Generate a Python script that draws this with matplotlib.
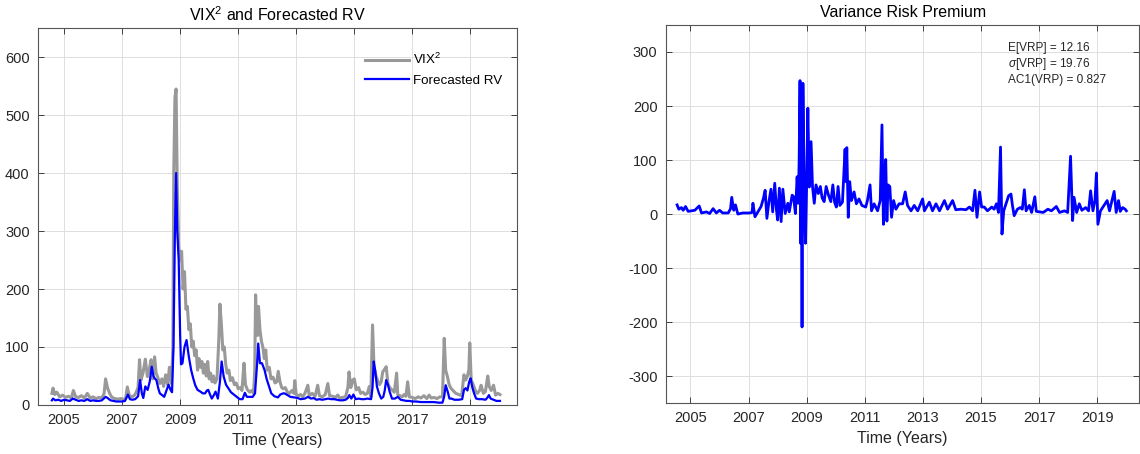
import matplotlib
matplotlib.use('Agg')
import matplotlib.pyplot as plt

# VIX^2 (grey line)
vix_t = [2004.58, 2004.62, 2004.68, 2004.75, 2004.85, 2004.95, 2005.05, 2005.15, 2005.25, 2005.32,
         2005.4, 2005.5, 2005.6, 2005.7, 2005.8, 2005.9, 2006.0, 2006.1, 2006.2, 2006.3,
         2006.38, 2006.43, 2006.5, 2006.57, 2006.65, 2006.75, 2006.85, 2006.95, 2007.05, 2007.12,
         2007.18, 2007.25, 2007.35, 2007.45, 2007.55, 2007.6, 2007.65, 2007.72, 2007.8, 2007.87,
         2007.93, 2008.0, 2008.05, 2008.12, 2008.17, 2008.22, 2008.3, 2008.37, 2008.43, 2008.5,
         2008.57, 2008.63, 2008.7, 2008.75, 2008.78, 2008.82, 2008.86, 2008.9, 2008.95, 2009.0,
         2009.05, 2009.1, 2009.15, 2009.2, 2009.25, 2009.3, 2009.35, 2009.4, 2009.45, 2009.5,
         2009.55, 2009.6, 2009.65, 2009.7, 2009.75, 2009.8, 2009.85, 2009.9, 2009.95, 2010.0,
         2010.05, 2010.1, 2010.15, 2010.2, 2010.27, 2010.33, 2010.37, 2010.42, 2010.47, 2010.52,
         2010.57, 2010.62, 2010.68, 2010.73, 2010.8, 2010.87, 2010.93, 2011.0, 2011.07, 2011.13,
         2011.2, 2011.25, 2011.32, 2011.4, 2011.47, 2011.53, 2011.57, 2011.6, 2011.63, 2011.67,
         2011.7, 2011.75, 2011.8, 2011.85, 2011.9, 2011.95, 2012.0, 2012.07, 2012.13, 2012.2,
         2012.27, 2012.33, 2012.38, 2012.44, 2012.5, 2012.55, 2012.62, 2012.7, 2012.77, 2012.85,
         2012.92, 2012.95, 2013.0, 2013.07, 2013.15, 2013.22, 2013.3, 2013.4, 2013.45, 2013.55,
         2013.65, 2013.74, 2013.8, 2013.9, 2014.0, 2014.09, 2014.15, 2014.25, 2014.35, 2014.43,
         2014.5, 2014.6, 2014.7, 2014.78, 2014.82, 2014.88, 2014.95, 2015.0, 2015.07, 2015.15,
         2015.22, 2015.3, 2015.38, 2015.45, 2015.52, 2015.57, 2015.63, 2015.68, 2015.75, 2015.8,
         2015.87, 2015.93, 2015.98, 2016.05, 2016.1, 2016.16, 2016.22, 2016.3, 2016.38, 2016.46,
         2016.5, 2016.58, 2016.65, 2016.72, 2016.78, 2016.84, 2016.9, 2017.0, 2017.1, 2017.2,
         2017.3, 2017.4, 2017.5, 2017.58, 2017.65, 2017.75, 2017.85, 2017.95, 2018.04, 2018.1,
         2018.15, 2018.21, 2018.27, 2018.33, 2018.4, 2018.5, 2018.6, 2018.7, 2018.78, 2018.84,
         2018.9, 2018.95, 2018.98, 2019.03, 2019.1, 2019.17, 2019.24, 2019.32, 2019.37, 2019.45,
         2019.52, 2019.6, 2019.65, 2019.72, 2019.8, 2019.87, 2019.95, 2020.02]
vix_v = [20, 29, 18, 22, 14, 17, 13, 15, 12, 25,
         14, 13, 16, 12, 20, 12, 14, 11, 13, 12,
         20, 45, 29, 20, 13, 11, 10, 11, 10, 11,
         31, 16, 14, 18, 30, 78, 43, 55, 79, 49,
         60, 78, 45, 83, 55, 49, 37, 45, 32, 52,
         35, 65, 37, 100, 400, 530, 545, 380, 270, 250,
         265, 200, 230, 165, 170, 130, 140, 100, 110, 85,
         95, 60, 80, 65, 75, 55, 70, 50, 75, 45,
         55, 40, 50, 38, 45, 110, 174, 140, 95, 100,
         70, 55, 60, 42, 47, 35, 38, 28, 30, 25,
         72, 35, 26, 22, 25, 20, 60, 190, 140, 120,
         170, 130, 110, 100, 80, 95, 60, 65, 45, 48,
         38, 40, 58, 40, 30, 28, 30, 22, 20, 25,
         20, 42, 18, 16, 18, 14, 20, 34, 16, 20,
         15, 34, 16, 14, 18, 37, 16, 15, 13, 17,
         12, 13, 14, 30, 57, 30, 43, 45, 26, 30,
         20, 22, 18, 20, 32, 14, 138, 66, 50, 43,
         35, 40, 57, 62, 66, 37, 30, 26, 22, 55,
         17, 16, 14, 18, 15, 40, 14, 13, 11, 14,
         12, 16, 11, 17, 12, 13, 11, 14, 14, 115,
         60, 49, 35, 29, 25, 20, 18, 16, 52, 43,
         50, 60, 107, 43, 35, 25, 20, 25, 34, 20,
         23, 50, 32, 25, 34, 17, 20, 18]

# Forecasted RV (blue line), left panel
rv_t = [2004.58, 2004.62, 2004.7, 2004.8, 2004.9, 2005.0, 2005.1, 2005.2, 2005.3, 2005.4,
        2005.5, 2005.6, 2005.7, 2005.8, 2005.9, 2006.0, 2006.1, 2006.2, 2006.3, 2006.43,
        2006.5, 2006.6, 2006.7, 2006.8, 2006.9, 2007.0, 2007.1, 2007.2, 2007.27, 2007.35,
        2007.45, 2007.55, 2007.62, 2007.68, 2007.73, 2007.8, 2007.88, 2007.95, 2008.02, 2008.08,
        2008.12, 2008.18, 2008.25, 2008.3, 2008.38, 2008.45, 2008.52, 2008.6, 2008.67, 2008.72,
        2008.77, 2008.82, 2008.86, 2008.9, 2008.95, 2009.0, 2009.03, 2009.08, 2009.15, 2009.22,
        2009.3, 2009.38, 2009.45, 2009.52, 2009.6, 2009.7, 2009.78, 2009.86, 2009.92, 2009.97,
        2010.03, 2010.09, 2010.15, 2010.22, 2010.3, 2010.37, 2010.43, 2010.5, 2010.58, 2010.66,
        2010.75, 2010.85, 2010.95, 2011.05, 2011.15, 2011.23, 2011.3, 2011.4, 2011.5, 2011.58,
        2011.65, 2011.69, 2011.75, 2011.82, 2011.91, 2011.98, 2012.05, 2012.14, 2012.25, 2012.37,
        2012.45, 2012.55, 2012.6, 2012.7, 2012.8, 2012.94, 2013.05, 2013.15, 2013.3, 2013.4,
        2013.51, 2013.6, 2013.7, 2013.8, 2013.9, 2014.0, 2014.1, 2014.2, 2014.31, 2014.4,
        2014.5, 2014.6, 2014.7, 2014.78, 2014.83, 2014.9, 2014.97, 2015.05, 2015.15, 2015.25,
        2015.35, 2015.45, 2015.58, 2015.63, 2015.67, 2015.72, 2015.78, 2015.85, 2015.93, 2016.0,
        2016.05, 2016.1, 2016.16, 2016.22, 2016.3, 2016.4, 2016.5, 2016.6, 2016.7, 2016.8,
        2016.9, 2017.0, 2017.13, 2017.3, 2017.45, 2017.6, 2017.75, 2017.9, 2018.04, 2018.1,
        2018.15, 2018.22, 2018.28, 2018.35, 2018.45, 2018.6, 2018.72, 2018.78, 2018.84, 2018.9,
        2018.96, 2019.01, 2019.07, 2019.13, 2019.2, 2019.3, 2019.41, 2019.52, 2019.58, 2019.64,
        2019.7, 2019.8, 2019.9, 2020.02]
rv_v = [8, 11, 8, 9, 7, 9, 8, 7, 11, 9,
        7, 8, 7, 10, 7, 8, 7, 7, 8, 14,
        12, 8, 7, 6, 6, 6, 7, 18, 10, 9,
        10, 15, 43, 20, 12, 32, 26, 40, 66, 50,
        46, 43, 28, 20, 17, 14, 24, 35, 26, 22,
        100, 300, 400, 300, 250, 120, 70, 72, 100, 112,
        83, 60, 46, 34, 26, 23, 20, 20, 25, 26,
        18, 11, 16, 23, 11, 40, 75, 49, 35, 29,
        22, 18, 14, 10, 10, 21, 14, 14, 14, 20,
        70, 106, 72, 72, 60, 45, 34, 20, 15, 13,
        18, 20, 20, 17, 14, 13, 12, 10, 11, 14,
        11, 12, 9, 10, 9, 10, 11, 10, 10, 9,
        8, 8, 9, 12, 17, 11, 18, 10, 11, 10,
        10, 11, 10, 30, 75, 60, 32, 20, 11, 14,
        25, 43, 35, 23, 11, 11, 14, 9, 8, 7,
        7, 6, 6, 5, 5, 5, 5, 4, 4, 15,
        34, 23, 11, 11, 9, 9, 10, 26, 29, 25,
        40, 46, 30, 20, 11, 10, 10, 9, 12, 17,
        11, 9, 7, 7]

# Variance risk premium, right panel
vrp_t = [2004.54, 2004.6, 2004.69, 2004.75, 2004.83, 2004.92, 2005.03, 2005.15, 2005.3, 2005.38,
         2005.55, 2005.66, 2005.78, 2005.89, 2006.0, 2006.11, 2006.3, 2006.38, 2006.42, 2006.49,
         2006.55, 2006.63, 2006.8, 2007.03, 2007.12, 2007.15, 2007.22, 2007.32, 2007.43, 2007.51,
         2007.57, 2007.63, 2007.7, 2007.77, 2007.83, 2007.9, 2007.96, 2008.0, 2008.06, 2008.12,
         2008.18, 2008.26, 2008.35, 2008.4, 2008.5, 2008.55, 2008.61, 2008.67, 2008.71, 2008.74,
         2008.77, 2008.79, 2008.81, 2008.84, 2008.87, 2008.92, 2008.96, 2009.0, 2009.04, 2009.09,
         2009.15, 2009.2, 2009.26, 2009.32, 2009.4, 2009.47, 2009.53, 2009.6, 2009.67, 2009.75,
         2009.83, 2009.9, 2009.96, 2010.02, 2010.08, 2010.14, 2010.23, 2010.32, 2010.35, 2010.38,
         2010.43, 2010.48, 2010.54, 2010.63, 2010.71, 2010.8, 2010.9, 2011.03, 2011.09, 2011.18,
         2011.23, 2011.32, 2011.44, 2011.53, 2011.59, 2011.64, 2011.68, 2011.72, 2011.76, 2011.8,
         2011.86, 2011.92, 2011.99, 2012.07, 2012.18, 2012.3, 2012.39, 2012.47, 2012.59, 2012.7,
         2012.82, 2012.99, 2013.05, 2013.22, 2013.33, 2013.45, 2013.57, 2013.74, 2013.85, 2014.02,
         2014.13, 2014.31, 2014.48, 2014.6, 2014.71, 2014.79, 2014.86, 2014.95, 2015.02, 2015.11,
         2015.22, 2015.37, 2015.45, 2015.53, 2015.6, 2015.67, 2015.72, 2015.78, 2015.86, 2015.95,
         2016.03, 2016.08, 2016.14, 2016.25, 2016.35, 2016.42, 2016.49, 2016.55, 2016.66, 2016.74,
         2016.85, 2016.9, 2017.14, 2017.3, 2017.42, 2017.59, 2017.7, 2017.87, 2017.98, 2018.08,
         2018.15, 2018.2, 2018.29, 2018.38, 2018.47, 2018.6, 2018.7, 2018.77, 2018.85, 2018.92,
         2018.97, 2019.02, 2019.11, 2019.23, 2019.34, 2019.42, 2019.58, 2019.65, 2019.73, 2019.79,
         2019.87, 2019.96, 2020.0]
vrp_v = [17, 9, 12, 7, 14, 5, 6, 7, 15, 2,
         4, 1, 10, 2, 7, 2, 2, 10, 31, 7,
         17, 0, 2, 2, 3, 20, -5, 4, 14, 29,
         44, -8, 23, 46, 4, 57, 7, -11, 48, -14,
         46, 1, 20, 4, 35, 32, 1, 69, 20, 100,
         247, -54, 200, -209, 242, 30, -54, 60, 196, 50,
         134, 51, 20, 54, 38, 51, 30, 23, 51, 35,
         23, 54, 22, 13, 51, 16, 22, 120, 60, 123,
         -6, 60, 25, 41, 19, 28, 16, 13, 25, 54,
         6, 19, 6, 25, 165, -19, 76, 101, -13, 54,
         51, -6, 25, 9, 19, 19, 41, 16, 6, 16,
         6, 28, 6, 22, 6, 19, 6, 25, 9, 25,
         8, 9, 8, 13, 6, 44, -6, 41, 13, 13,
         6, 13, 9, 19, 3, 124, -37, 6, 19, 34,
         37, 16, -3, 9, 12, 9, 45, 6, 16, 3,
         32, 5, 3, 9, 6, 14, 3, 6, 3, 107,
         -12, 31, 3, 19, 7, 12, 6, 43, 6, 25,
         76, -19, 6, 16, 25, 6, 42, 3, 25, 5,
         12, 9, 6]

vrp_stats = ['E[VRP] = 12.16', r'$\sigma$[VRP] = 19.76', 'AC1(VRP) = 0.827']
year_ticks = list(range(2005, 2020, 2))

plt.rcParams['font.family'] = ['Liberation Sans', 'DejaVu Sans']
plt.rcParams['mathtext.fontset'] = 'custom'
plt.rcParams['mathtext.rm'] = 'Liberation Sans'
plt.rcParams['mathtext.it'] = 'Liberation Sans:italic'
plt.rcParams['axes.unicode_minus'] = False

TXT = '#262626'
GRID = '#dedede'


def style_axes(ax):
    ax.set_xticks(year_ticks)
    ax.grid(True, color=GRID, linewidth=0.7)
    ax.set_axisbelow(True)
    ax.tick_params(direction='in', top=True, right=True, length=4, width=0.6,
                   colors=TXT, labelsize=10.5, pad=6)
    for sp in ax.spines.values():
        sp.set_color('#555555')
        sp.set_linewidth(0.8)
    ax.set_xlabel('Time (Years)', fontsize=11.5, color=TXT, labelpad=4)


fig = plt.figure(figsize=(11.4, 4.54), dpi=100)
ax1 = fig.add_axes([0.0333, 0.108, 0.420, 0.830])
ax2 = fig.add_axes([0.584, 0.112, 0.4155, 0.833])

# left panel
ax1.plot(vix_t, vix_v, color='#999999', linewidth=2.2, label='VIX$^2$')
ax1.plot(rv_t, rv_v, color='#0000ff', linewidth=1.6, label='Forecasted RV')
ax1.set_xlim(2004.1, 2020.6)
ax1.set_ylim(0, 650)
ax1.set_yticks(range(0, 700, 100))
style_axes(ax1)
ax1.set_title('VIX$^2$ and Forecasted RV', fontsize=11.5, color='black', pad=5)
ax1.legend(loc='upper right', bbox_to_anchor=(0.995, 0.968), frameon=False,
           fontsize=9.6, handlelength=3.3, handletextpad=0.3, labelspacing=0.55)

# right panel
ax2.plot(vrp_t, vrp_v, color='#0000ff', linewidth=2.0)
ax2.set_xlim(2004.15, 2020.45)
ax2.set_ylim(-350, 350)
ax2.set_yticks(range(-300, 400, 100))
style_axes(ax2)
ax2.set_title('Variance Risk Premium', fontsize=11.5, color='black', pad=6)
for i, s in enumerate(vrp_stats):
    ax2.text(0.723, 0.94 - i * 0.043, s, transform=ax2.transAxes,
             fontsize=8.5, color=TXT, va='center', ha='left')

fig.savefig('out.png', dpi=100, facecolor='white')
